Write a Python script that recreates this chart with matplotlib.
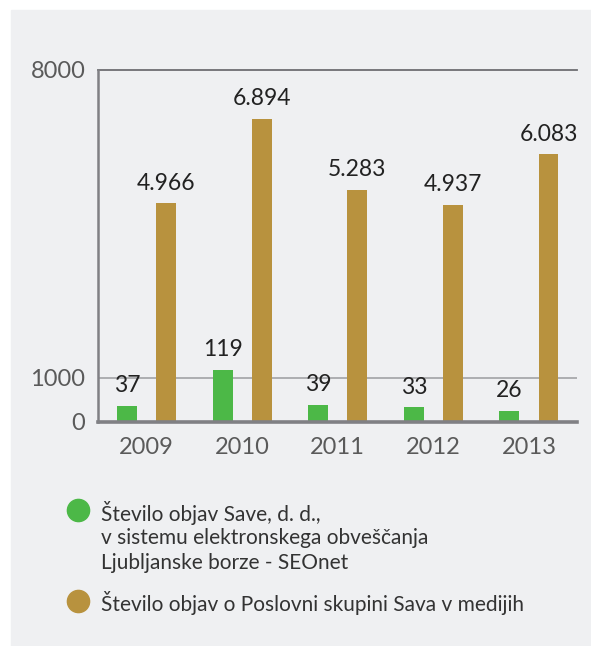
import matplotlib.pyplot as plt
from matplotlib.patches import Rectangle
from matplotlib.lines import Line2D

years = ["2009", "2010", "2011", "2012", "2013"]
seonet = [37, 119, 39, 33, 26]
media = [4966, 6894, 5283, 4937, 6083]
seonet_scale = 10  # green bars are drawn 10x on the same axis
yticks = [0, 1000, 8000]

green = "#4cb847"
gold = "#b8923e"
panel = "#eff0f2"

plt.rcParams['font.family'] = ['Lato', 'DejaVu Sans']

fig = plt.figure(figsize=(5.91, 6.46), dpi=100)
fig.patch.set_facecolor("white")
fig.add_artist(Rectangle((11 / 591, 0), 1, (646 - 10) / 646,
                         transform=fig.transFigure, color=panel, zorder=0))

ax = fig.add_axes([98 / 591, 224 / 646, 479 / 591, 352 / 646])
ax.set_facecolor("none")

x = list(range(len(years)))
w = 0.209
off = 0.204
xg = [i - off for i in x]
xm = [i + off for i in x]
hg = [v * seonet_scale for v in seonet]
ax.bar(xg, hg, width=w, color=green, zorder=3)
ax.bar(xm, media, width=w, color=gold, zorder=3)

def fmt(v):
    return f"{v:,}".replace(",", ".")

for xi, h, v in zip(xg, hg, seonet):
    ax.annotate(str(v), (xi, h), xytext=(0, 7), textcoords="offset points",
                ha="center", va="bottom", fontsize=16.5, color="#222222")
for xi, v in zip(xm, media):
    ax.annotate(fmt(v), (xi, v), xytext=(0, 7), textcoords="offset points",
                ha="center", va="bottom", fontsize=16.5, color="#222222")

ax.set_xlim(-0.507, 4.502)
ax.set_ylim(0, 8000)
ax.set_yticks(yticks)
ax.set_yticklabels([str(t) for t in yticks], fontsize=17, color="#5a5a5a")
ax.set_xticks(x)
ax.set_xticklabels(years, fontsize=17, color="#5a5a5a")
ax.tick_params(length=0)
ax.tick_params(axis="x", pad=11)
ax.tick_params(axis="y", pad=9)

ax.axhline(8000, color="#6e6e72", lw=1.3, zorder=2, clip_on=False)
ax.axhline(1000, color="#a8a8ac", lw=1.3, zorder=2)
for s in ["top", "right"]:
    ax.spines[s].set_visible(False)
ax.spines["left"].set_color("#808084")
ax.spines["left"].set_linewidth(1.8)
ax.spines["bottom"].set_color("#808084")
ax.spines["bottom"].set_linewidth(2.6)
ax.spines["bottom"].set_zorder(4)

# legend
lx = 78 / 591
tx = 101 / 591
fig.add_artist(Line2D([lx], [1 - 510 / 646], marker="o", markersize=16,
                      color=green, transform=fig.transFigure))
fig.add_artist(Line2D([lx], [1 - 601 / 646], marker="o", markersize=16,
                      color=gold, transform=fig.transFigure))
lines1 = ["Število objav Save, d. d.,",
          "v sistemu elektronskega obveščanja",
          "Ljubljanske borze - SEOnet"]
for k, t in enumerate(lines1):
    fig.text(tx, 1 - (513 + 25 * k) / 646, t, fontsize=15, color="#333333",
             va="center", ha="left")
fig.text(tx, 1 - 603 / 646, "Število objav o Poslovni skupini Sava v medijih",
         fontsize=15, color="#333333", va="center", ha="left")

fig.savefig("out.png", dpi=100, facecolor=fig.get_facecolor())
